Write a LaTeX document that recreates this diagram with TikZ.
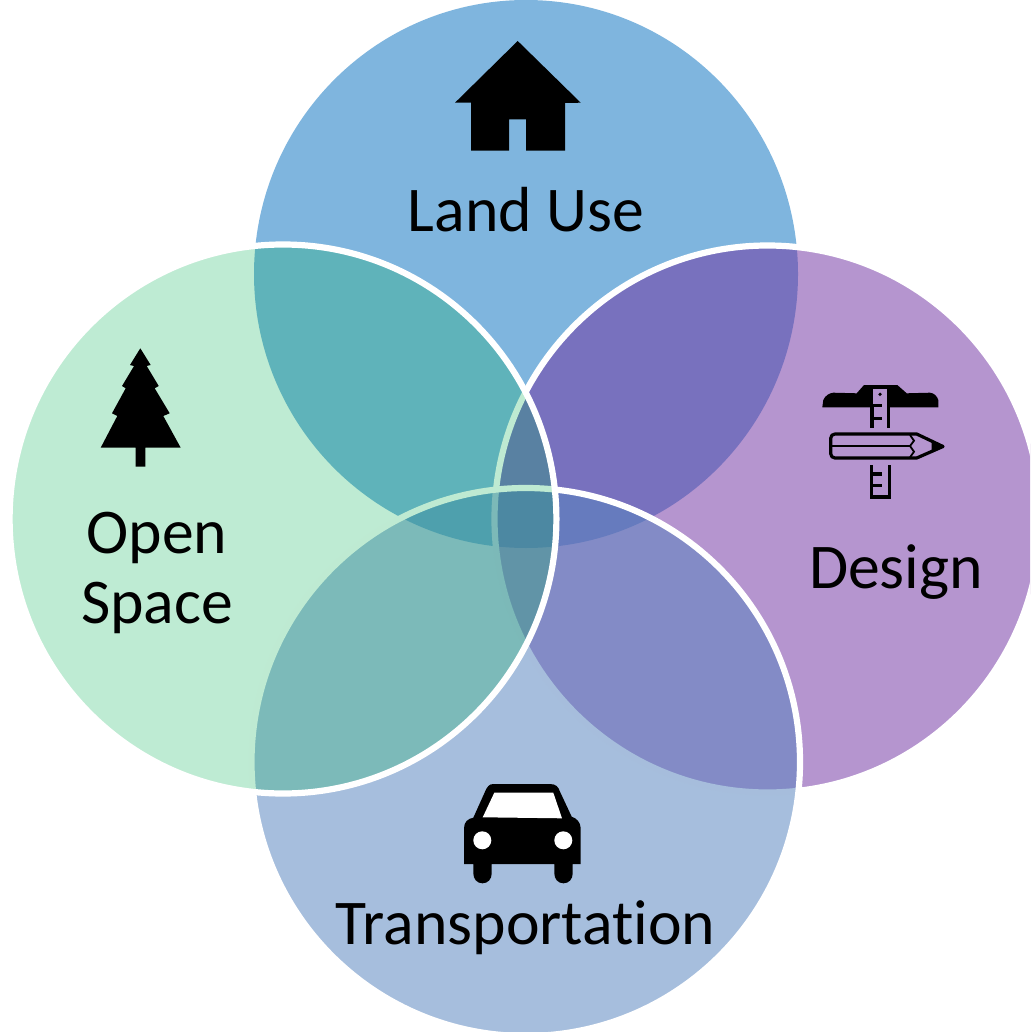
\documentclass[tikz,border=0pt]{standalone}
\usepackage{fontspec}
\setmainfont{Carlito}[Ligatures=NoCommon]
\definecolor{topc}{RGB}{127,181,222}
\definecolor{rightc}{RGB}{114,53,163}
\definecolor{botc}{RGB}{87,132,190}
\definecolor{leftc}{RGB}{4,176,84}
\definecolor{purplebg}{RGB}{181,149,207}
\tikzset{
  ring/.style={draw=white,line width=6.2pt},
  lbl/.style={anchor=base,font=\fontsize{63.7}{63.7}\selectfont,text=black,inner sep=0pt},
  iconline/.style={draw=black,line width=3.2pt},
}
\begin{document}
\begin{tikzpicture}[x=1pt,y=-1pt]
\useasboundingbox (0,0) rectangle (1030,1032);
\clip (0,0) rectangle (1030,1032);
\fill[topc] (526,274) ellipse [x radius=272,y radius=274];
\path[ring,fill=rightc,fill opacity=.525] (767.5,519) ellipse [x radius=273,y radius=273.5];
\path[ring,fill=botc,fill opacity=.53] (525.75,762) ellipse [x radius=274.25,y radius=274];
\path[ring,fill=leftc,fill opacity=.26] (283,519) ellipse [x radius=273.4,y radius=274.5];
% house
\fill[black] (517.7,41) -- (580.7,102.7) -- (565,103) -- (565,150.7) -- (526,150.7) -- (526,119.3) -- (509,119.3) -- (509,150.7) -- (471,150.7) -- (471,102.7) -- (455,102.7) -- cycle;
% tree
\fill[black] (140.3,348.3) -- (150.7,365) -- (146.7,366) -- (158.7,386) -- (154.7,388.3) -- (169.7,413.3) -- (163.3,416) -- (180.7,447.7) -- (145.3,447.7) -- (145.3,466.7) -- (135.7,466.7) -- (135.7,447.7) -- (100.7,447.7) -- (117.3,416) -- (112,413.3) -- (125.7,388.3) -- (122,386) -- (134,366) -- (130,365) -- cycle;
% car
\fill[black] (493.3,784) -- (550,784) .. controls (556,784) and (558.5,787) .. (560,791.7) -- (571.7,816.7) .. controls (576,818) and (580.7,822) .. (580.7,828.3) -- (580.7,864) -- (572.7,864) -- (572.7,873.3) .. controls (572.7,879) and (569,883.3) .. (563.5,883.3) .. controls (558,883.3) and (554.3,879) .. (554.3,873.3) -- (554.3,864) -- (491.7,864) -- (491.7,873.3) .. controls (491.7,879) and (488,883.3) .. (482.5,883.3) .. controls (477,883.3) and (473.3,879) .. (473.3,873.3) -- (473.3,864) -- (464,864) -- (464,828.3) .. controls (464,822) and (468,818.5) .. (473.3,817.7) -- (485,791.7) .. controls (487,787) and (489,784) .. (493.3,784) -- cycle;
\fill[white] (494.3,792.7) -- (553.3,792.7) -- (562,818.3) -- (482.7,817.3) -- cycle;
\fill[white] (482.3,840.3) circle (9);
\fill[white] (563.3,840.3) circle (9);
% design icon
\fill[black] (822.3,407.3) -- (823.3,400) .. controls (825,396) and (829,393) .. (833.3,392.7) -- (856.7,393.3) -- (864,385) -- (897.3,385) -- (906.7,393.3) -- (930,392.7) .. controls (934,393) and (937,396) .. (938.3,400) -- (938.3,407.3) -- cycle;
\fill[purplebg] (873.4,388.5) rectangle (887.2,429);
\draw[iconline] (872,407) -- (872,428.3);
\draw[iconline] (888.6,407) -- (888.6,428.3);
\draw[iconline] (872,405.5) -- (881.7,405.5);
\draw[iconline] (872,418.3) -- (881.7,418.3);
\fill[black] (880,394.3) circle (1.8);
\draw[iconline] (871.7,465) -- (871.7,497) -- (889.2,497) -- (889.2,465);
\draw[iconline] (871.7,474) -- (881.7,474);
\draw[iconline] (871.7,485.7) -- (881.7,485.7);
\draw[iconline,line join=round] (916.7,434) -- (835,434) .. controls (832.5,434) and (830.7,435.8) .. (830.7,438.3) -- (830.7,453.7) .. controls (830.7,456.2) and (832.5,458) .. (835,458) -- (916.7,458) -- (943,446.5) -- cycle;
\draw[black,line width=1.8pt] (830.7,446) -- (910,446);
\draw[black,line width=1.8pt] (910,435) -- (914,440.7) -- (910,446) -- (914,451.7) -- (910,457.3);
\fill[black] (931.7,440.7) -- (943.3,446.5) -- (931.7,452.7) -- cycle;
% labels
\node[lbl] (land) at (526,231) {Land Use};
\node[lbl] (open) at (157,553) {Open};
\node[lbl] (space) at (157,623) {Space};
\node[lbl] (design) at (896,588) {Design};
\node[lbl] (transport) at (525.5,944) {Transportation};
\end{tikzpicture}
\end{document}
